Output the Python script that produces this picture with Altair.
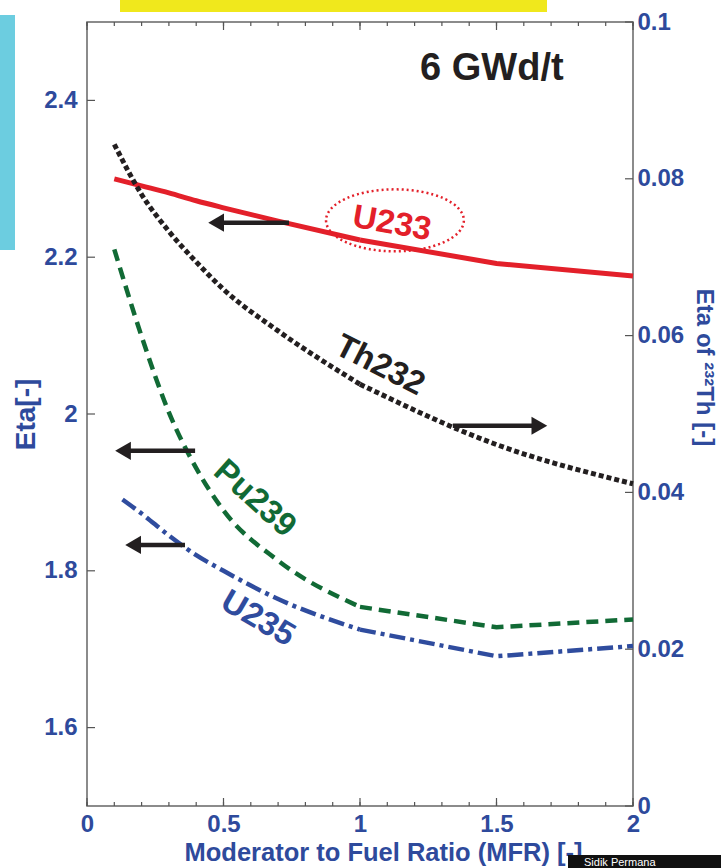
import altair as alt
import pandas as pd

W, H = 546, 784
FONT = "Liberation Sans"
AXIS_BLUE = "#2e4a9c"
RED = "#e3202a"
BLACK = "#231f20"
GREEN = "#116a35"
BLUE = "#2f4c9e"

# ---- data ----
mfr = [0.1, 0.2, 0.3, 0.4, 0.5, 0.7, 1.0, 1.5, 2.0]
eta_u233 = [2.300, 2.291, 2.282, 2.272, 2.263, 2.246, 2.222, 2.192, 2.176]
eta_pu239 = [2.210, 2.099, 2.002, 1.931, 1.877, 1.813, 1.754, 1.728, 1.738]
mfr_u235 = [0.13, 0.2, 0.3, 0.4, 0.5, 0.7, 1.0, 1.5, 2.0]
eta_u235 = [1.891, 1.873, 1.845, 1.820, 1.800, 1.764, 1.725, 1.691, 1.704]
eta_th232 = [0.0844, 0.0780, 0.0733, 0.0694, 0.0659, 0.0606, 0.0538, 0.0461, 0.0411]

x_labels = [0, 0.5, 1, 1.5, 2]
x_minor = [0, 0.1, 0.2, 0.3, 0.4, 0.5, 0.6, 0.7, 0.8, 0.9, 1.0,
           1.1, 1.2, 1.3, 1.4, 1.5, 1.6, 1.7, 1.8, 1.9, 2.0]
yl_labels = [1.6, 1.8, 2.0, 2.2, 2.4]
yr_labels = [0, 0.02, 0.04, 0.06, 0.08, 0.1]

# annotation positions (in MFR / left-axis Eta units)
label_text = ["U233", "Th232", "Pu239", "U235"]
label_x = [1.117, 1.073, 0.615, 0.626]
label_y = [2.243, 2.062, 1.892, 1.739]
label_angle = [10, 27, 42, 30]
label_color = [RED, BLACK, GREEN, BLUE]

arrow_tail = [0.74, 0.396, 0.359]
arrow_tip = [0.44, 0.099, 0.136]
arrow_y = [2.244, 1.953, 1.833]
arrow_r_tail = [1.34]
arrow_r_tip = [1.69]
arrow_r_y = [1.985]

ellipse_x = [1.128]
ellipse_y = [2.247]

note_x = [1.483]
note_y = [2.440]
note_text = ["6 GWd/t"]

# ---- scales / axes ----
xs = alt.Scale(domain=[0, 2], nice=False, zero=False)


def yl():
    return alt.Scale(domain=[1.5, 2.5], nice=False, zero=False)


def yr():
    return alt.Scale(domain=[0, 0.1], nice=False, zero=False)


x_axis = alt.Axis(values=x_labels, format="~g", ticks=False, domain=False, grid=False,
                  orient="bottom",
                  labelFont=FONT, labelFontSize=24, labelFontWeight="bold",
                  labelColor=AXIS_BLUE, labelPadding=6, labelFlush=False,
                  title="Moderator to Fuel Ratio (MFR) [-]", titleFont=FONT,
                  titleFontSize=25.5, titleFontWeight="bold", titleColor=AXIS_BLUE,
                  titleX=296, titleY=46, titleBaseline="middle", titleAlign="center")
yl_axis = alt.Axis(values=yl_labels, format="~g", ticks=False, domain=False, grid=False,
                   orient="left",
                   labelFont=FONT, labelFontSize=24, labelFontWeight="bold",
                   labelColor=AXIS_BLUE, labelPadding=10, labelFlush=False,
                   title="Eta[-]", titleFont=FONT, titleFontSize=28,
                   titleFontWeight="bold", titleColor=AXIS_BLUE,
                   titleX=-61, titleY=392, titleBaseline="middle", titleAlign="center",
                   titleAngle=270)
yr_axis = alt.Axis(values=yr_labels, format="~g", ticks=False, domain=False, grid=False,
                   orient="right",
                   labelFont=FONT, labelFontSize=24, labelFontWeight="bold",
                   labelColor=AXIS_BLUE, labelPadding=4, labelFlush=False,
                   title="Eta of \u00b2\u00b3\u00b2Th [-]", titleFont=FONT, titleFontSize=24,
                   titleFontWeight="bold", titleColor=AXIS_BLUE,
                   titleX=70, titleY=345, titleBaseline="middle", titleAlign="center",
                   titleAngle=90)


def X(field):
    return alt.X(field, scale=xs, axis=x_axis)


df_main = pd.DataFrame({"mfr": mfr, "u233": eta_u233, "pu239": eta_pu239, "th232": eta_th232})
df_lo = df_main[df_main["mfr"] <= 1.0]
df_hi = df_main[df_main["mfr"] >= 1.0]
df_u235 = pd.DataFrame({"mfr": mfr_u235, "u235": eta_u235})
df_u235_lo = df_u235[df_u235["mfr"] <= 1.0]
df_u235_hi = df_u235[df_u235["mfr"] >= 1.0]


def series(df, field, scale, color, width, dash=None, interp="linear", axis=None):
    kw = dict(color=color, strokeWidth=width, interpolate=interp, strokeCap="butt")
    if dash:
        kw["strokeDash"] = dash
    return alt.Chart(df).mark_line(**kw).encode(
        x=X("mfr:Q"),
        y=alt.Y(field + ":Q", scale=scale, axis=axis))


layers = []
layers.append(series(df_lo, "u233", yl(), RED, 5, interp="monotone", axis=yl_axis))
layers.append(series(df_hi, "u233", yl(), RED, 5))
layers.append(series(df_lo, "pu239", yl(), GREEN, 4.5, [12, 7], "monotone"))
layers.append(series(df_hi, "pu239", yl(), GREEN, 4.5, [12, 7]))
layers.append(series(df_u235_lo, "u235", yl(), BLUE, 4.5, [16, 5, 4, 5], "monotone"))
layers.append(series(df_u235_hi, "u235", yl(), BLUE, 4.5, [16, 5, 4, 5]))
layers.append(series(df_lo, "th232", yr(), BLACK, 5, [5, 3], "monotone", axis=yr_axis))
layers.append(series(df_hi, "th232", yr(), BLACK, 5, [5, 3], "monotone"))

# inward ticks
TICK = "#555"
layers.append(alt.Chart(pd.DataFrame({"v": yl_labels})).mark_rule(color=TICK, strokeWidth=1.2).encode(
    y=alt.Y("v:Q", scale=yl(), axis=None), x=alt.value(0), x2=alt.value(8)))
layers.append(alt.Chart(pd.DataFrame({"v": yr_labels})).mark_rule(color=TICK, strokeWidth=1.2).encode(
    y=alt.Y("v:Q", scale=yr(), axis=None), x=alt.value(W - 8), x2=alt.value(W)))
df_xminor = pd.DataFrame({"v": x_minor})
df_xmajor = pd.DataFrame({"v": x_labels})
for d, y0, y1 in [(df_xminor, H - 4, H), (df_xmajor, H - 8, H), (df_xminor, 0, 4), (df_xmajor, 0, 8)]:
    layers.append(alt.Chart(d).mark_rule(color=TICK, strokeWidth=1.2).encode(
        x=X("v:Q"), y=alt.value(y0), y2=alt.value(y1)))

# ---- annotations ----
df_ell = pd.DataFrame({"x": ellipse_x, "y": ellipse_y})
layers.append(alt.Chart(df_ell).mark_point(
    shape="M -1 0 A 1 0.45 0 1 0 1 0 A 1 0.45 0 1 0 -1 0",
    size=19000, filled=False, color=RED, strokeWidth=2.5, strokeDash=[2, 3], opacity=1).encode(
    x=X("x:Q"), y=alt.Y("y:Q", scale=yl(), axis=None)))

df_arr = pd.DataFrame({"tail": arrow_tail, "tip": arrow_tip, "y": arrow_y})
layers.append(alt.Chart(df_arr).mark_rule(color=BLACK, strokeWidth=4.5, x2Offset=9).encode(
    x=X("tail:Q"), x2="tip:Q", y=alt.Y("y:Q", scale=yl(), axis=None)))
layers.append(alt.Chart(df_arr).mark_point(shape="triangle-left", filled=True, size=330,
                                           color=BLACK, opacity=1, xOffset=9).encode(
    x=X("tip:Q"), y=alt.Y("y:Q", scale=yl(), axis=None)))
df_arr_r = pd.DataFrame({"tail": arrow_r_tail, "tip": arrow_r_tip, "y": arrow_r_y})
layers.append(alt.Chart(df_arr_r).mark_rule(color=BLACK, strokeWidth=4.5, x2Offset=-9).encode(
    x=X("tail:Q"), x2="tip:Q", y=alt.Y("y:Q", scale=yl(), axis=None)))
layers.append(alt.Chart(df_arr_r).mark_point(shape="triangle-right", filled=True, size=330,
                                             color=BLACK, opacity=1, xOffset=-9).encode(
    x=X("tip:Q"), y=alt.Y("y:Q", scale=yl(), axis=None)))

for t, x, y, a, c in zip(label_text, label_x, label_y, label_angle, label_color):
    d = pd.DataFrame({"x": [x], "y": [y], "t": [t]})
    layers.append(alt.Chart(d).mark_text(font=FONT, fontSize=33, fontWeight="bold", angle=a,
                                         color=c, align="center", baseline="middle").encode(
        x=X("x:Q"), y=alt.Y("y:Q", scale=yl(), axis=None), text="t:N"))

df_note = pd.DataFrame({"x": note_x, "y": note_y, "t": note_text})
layers.append(alt.Chart(df_note).mark_text(font=FONT, fontSize=38, fontWeight="bold", color=BLACK,
                                           align="center", baseline="middle").encode(
    x=X("x:Q"), y=alt.Y("y:Q", scale=yl(), axis=None), text="t:N"))

# slide decorations around the figure
df_one = pd.DataFrame({"a": [0]})
layers.append(alt.Chart(df_one).mark_rect(color="#f0e81c").encode(
    x=alt.value(33), x2=alt.value(460), y=alt.value(-22), y2=alt.value(-10)))
layers.append(alt.Chart(df_one).mark_rect(color="#6ccde0").encode(
    x=alt.value(-87), x2=alt.value(-72), y=alt.value(-7), y2=alt.value(228)))
layers.append(alt.Chart(df_one).mark_rect(color="#111111").encode(
    x=alt.value(481), x2=alt.value(640), y=alt.value(833), y2=alt.value(850)))
layers.append(alt.Chart(pd.DataFrame({"t": ["Sidik Permana"]})).mark_text(
    font=FONT, fontSize=11, color="white", align="left", baseline="top").encode(
    x=alt.value(497), y=alt.value(835), text="t:N"))

chart = alt.layer(*layers).resolve_scale(y="independent").properties(
    width=W, height=H,
    autosize=alt.AutoSizeParams(type="none"),
    padding={"left": 87, "top": 22, "right": 721 - 87 - W, "bottom": 868 - 22 - H},
    background="white",
).configure_view(stroke="#666", strokeWidth=1.5)

chart.save("out.html", embed_options={"renderer": "svg", "actions": False})
